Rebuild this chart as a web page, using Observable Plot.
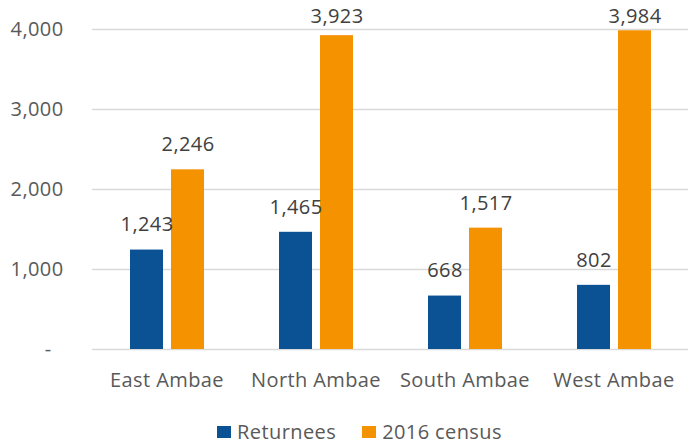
<!DOCTYPE html>
<html>
<head>
<meta charset="utf-8">
<script src="https://cdn.jsdelivr.net/npm/d3@7"></script>
<script src="https://cdn.jsdelivr.net/npm/@observablehq/plot@0.6"></script>
<style>
  body { margin: 0; background: #fff; font-family: "Open Sans", sans-serif; }
  #wrap { position: relative; width: 691px; height: 446px; }
  #legend { position: absolute; top: 418px; left: 0; width: 691px; display: flex; justify-content: center; gap: 26px; font-size: 20px; letter-spacing: 0.4px; color: #595959; padding-left: 28px; box-sizing: border-box; }
  .item { display: flex; align-items: center; gap: 6px; }
  .sw { width: 14px; height: 12px; display: inline-block; }
  #chart svg text { letter-spacing: 0.4px; }
</style>
</head>
<body>
<div id="wrap"><div id="chart"></div><div id="legend"></div></div>
<script>
const regions = ["East Ambae", "North Ambae", "South Ambae", "West Ambae"];
const seriesNames = ["Returnees", "2016 census"];
const returnees = [1243, 1465, 668, 802];
const census2016 = [2246, 3923, 1517, 3984];
const yTicks = [0, 1000, 2000, 3000, 4000];
const colors = ["#0A5294", "#F59200"];

const data = [];
regions.forEach((r, i) => {
  data.push({region: r, series: seriesNames[0], value: returnees[i]});
  data.push({region: r, series: seriesNames[1], value: census2016[i]});
});

const fmt = d3.format(",");
const chart = Plot.plot({
  width: 691,
  height: 400,
  marginLeft: 91,
  marginRight: 3,
  marginTop: 29,
  marginBottom: 51,
  style: {fontFamily: "'Open Sans', sans-serif", fontSize: "20px", color: "#595959", background: "#fff"},
  fx: {domain: regions, padding: 0, label: null, tickSize: 0, tickPadding: 23, axis: "bottom"},
  x: {domain: seriesNames, paddingInner: 0.2, paddingOuter: 0.877, axis: null},
  y: {domain: [0, 4000], ticks: yTicks, tickSize: 0, tickPadding: 29, label: null,
      tickFormat: d => d === 0 ? "-\u2007" : fmt(d)},
  color: {domain: seriesNames, range: colors},
  facet: {data, x: "region"},
  marks: [
    Plot.ruleY(yTicks, {stroke: "#d9d9d9", strokeWidth: 1.5}),
    Plot.barY(data, {x: "series", y: "value", fill: "series"}),
    Plot.text(data, {x: "series", y: d => Math.min(d.value, 3850), text: d => fmt(d.value), dy: -25, fill: "#404040", fontSize: 20})
  ]
});
document.getElementById("chart").appendChild(chart);

const legend = document.getElementById("legend");
seriesNames.forEach((s, i) => {
  const it = document.createElement("div");
  it.className = "item";
  it.innerHTML = `<span class="sw" style="background:${colors[i]}"></span><span>${s}</span>`;
  legend.appendChild(it);
});
</script>
</body>
</html>
